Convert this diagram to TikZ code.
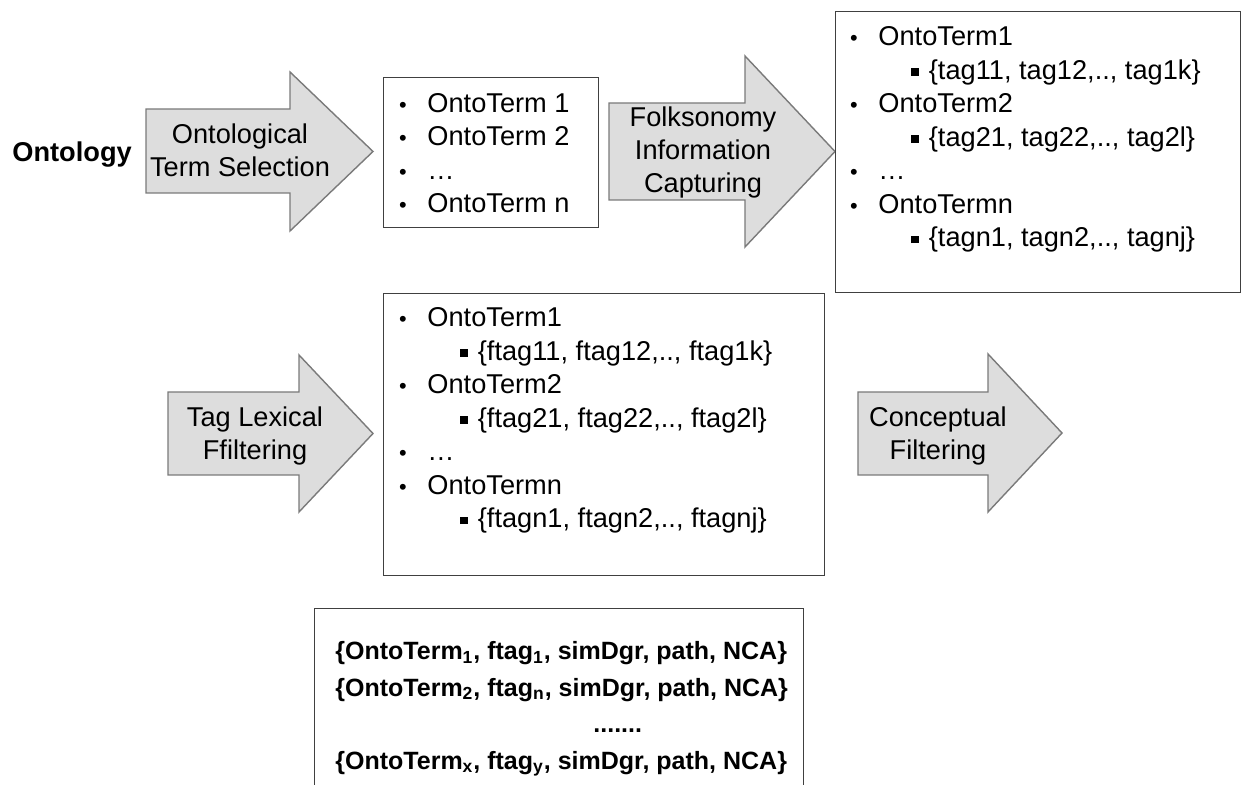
\documentclass[tikz,border=0pt]{standalone}
\usepackage{fontspec}
\setmainfont{Liberation Sans}

\definecolor{stepfill}{HTML}{DDDDDD}
\definecolor{stepline}{HTML}{7A7A7A}
\definecolor{boxline}{HTML}{404040}

% list lines: round bullet and square sub-bullet
\newcommand{\bitem}[1]{\llap{\makebox[0pt]{\scalebox{0.8}{\textbullet}}\hspace{12.25pt}}#1}
\newcommand{\sitem}[1]{\hspace*{25.25pt}\llap{\makebox[0pt]{\rule[1.9pt]{3.7pt}{3.7pt}}\hspace{7pt}}#1}

\begin{document}
\begin{tikzpicture}[x = 0.5pt, y = -0.5pt,
	stepshape/.style = {draw = stepline, fill = stepfill, line width = 0.7pt},
	steptext/.style = {align = center, anchor = base, inner sep = 0pt,
		font = \fontsize{13.6}{16.5}\selectfont},
	listbox/.style = {draw = boxline, line width = 0.6pt, anchor = north west, inner sep = 0pt},
	listtext/.style = {align = left, anchor = base west, inner sep = 0pt,
		font = \fontsize{13.6}{16.75}\selectfont}]

	\useasboundingbox (0,0) rectangle (1242,785);
	\clip (0,0) rectangle (1242,785);

	\draw (12,162) node[anchor = base west,
				inner sep = 0pt,
				font = \fontsize{13.6}{16.5}\selectfont\bfseries](ontology){Ontology};

	% first row (text nodes sit on the baseline of their last line)
	\draw[stepshape] (146,109) -- (290,109) -- (290,72) -- (373,151.5)
		-- (290,231) -- (290,193) -- (146,193) -- cycle;
	\draw (240,177) node[steptext](select){Ontological\\Term Selection};

	\draw (383,77) node[listbox,
				minimum width = 107.5pt,
				minimum height = 75pt](terms){};
	\draw (427,213) node[listtext](termlist){\bitem{OntoTerm 1}\\
		\bitem{OntoTerm 2}\\
		\bitem{…}\\
		\bitem{OntoTerm n}};

	\draw[stepshape] (609,103) -- (745,103) -- (745,56) -- (835,151.5)
		-- (745,247) -- (745,200) -- (609,200) -- cycle;
	\draw (703,193) node[steptext](capture){Folksonomy\\Information\\Capturing};

	\draw (835,11) node[listbox,
				minimum width = 202.5pt,
				minimum height = 140.5pt](tags){};
	\draw (878,247) node[listtext](taglist){\bitem{OntoTerm1}\\
		\sitem{\{tag11, tag12,.., tag1k\}}\\
		\bitem{OntoTerm2}\\
		\sitem{\{tag21, tag22,.., tag2l\}}\\
		\bitem{…}\\
		\bitem{OntoTermn}\\
		\sitem{\{tagn1, tagn2,.., tagnj\}}};

	% second row
	\draw[stepshape] (168,392) -- (299,392) -- (299,355) -- (373,433.5)
		-- (299,512) -- (299,475) -- (168,475) -- cycle;
	\draw (255,460) node[steptext](lexical){Tag Lexical\\Ffiltering};

	\draw (383,293) node[listbox,
				minimum width = 220.5pt,
				minimum height = 141pt](ftags){};
	\draw (427,528) node[listtext](ftaglist){\bitem{OntoTerm1}\\
		\sitem{\{ftag11, ftag12,.., ftag1k\}}\\
		\bitem{OntoTerm2}\\
		\sitem{\{ftag21, ftag22,.., ftag2l\}}\\
		\bitem{…}\\
		\bitem{OntoTermn}\\
		\sitem{\{ftagn1, ftagn2,.., ftagnj\}}};

	\draw[stepshape] (858,392) -- (988,392) -- (988,354) -- (1062,433)
		-- (988,512) -- (988,475) -- (858,475) -- cycle;
	\draw (938,460) node[steptext](concept){Conceptual\\Filtering};

	% result, cut by the lower edge
	\draw (314,608) node[listbox,
				minimum width = 244.5pt,
				minimum height = 200pt](result){};
	\draw (335,769) node[anchor = base west,
				align = left,
				inner sep = 0pt,
				font = \fontsize{12.5}{18.25}\selectfont\bfseries](resultlist){%
		\{OntoTerm\textsubscript{1}, ftag\textsubscript{1}, simDgr, path, NCA\}\\
		\{OntoTerm\textsubscript{2}, ftag\textsubscript{n}, simDgr, path, NCA\}\\
		\hspace*{129pt}.......\\
		\{OntoTerm\textsubscript{x}, ftag\textsubscript{y}, simDgr, path, NCA\}};

\end{tikzpicture}
\end{document}
